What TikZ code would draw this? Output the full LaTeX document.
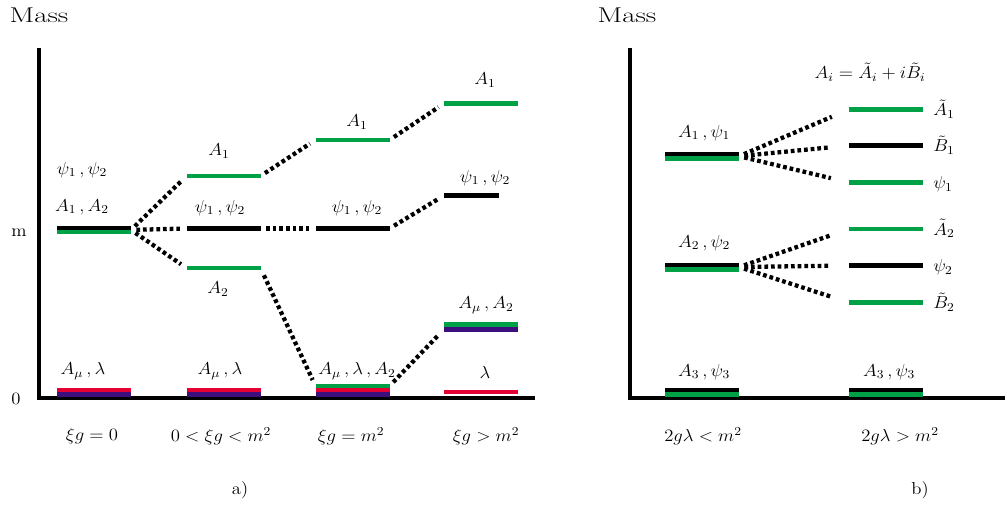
\RequirePackage{fix-cm}
\documentclass[tikz,border=0pt]{standalone}
\usepackage{amsmath}
\definecolor{lvgreen}{RGB}{0,160,70}
\definecolor{lvred}{RGB}{228,0,50}
\definecolor{lvpurple}{RGB}{60,15,125}
\tikzset{
  lvbar/.style={fill=#1, minimum width=55.5pt, minimum height=3.3pt, inner sep=0pt, outer sep=0pt},
  link/.style={line width=3.2pt, dash pattern=on 2.8pt off 2.2pt, shorten <=4pt, shorten >=5pt},
  lbl/.style={font=\fontsize{13}{15}\selectfont, transform shape, xscale=1.08, inner sep=0pt},
  masslbl/.style={font=\fontsize{16}{19}\selectfont, transform shape, xscale=1.36, inner sep=0pt},
  massaxis/.style={line width=3pt}
}
\begin{document}
\begin{tikzpicture}[x=0.75pt,y=-0.75pt]
    \useasboundingbox (0,0) rectangle (1007,504);

    % ---------------- a) ----------------
    \draw[massaxis] (39,48) |- (535,398);
    \node[masslbl] (massa) at (39,15) {Mass};
    \node[lbl] (mtick) at (19,233) {m};
    \node[lbl] (ztick) at (16,399) {0};

    % column 1: xi g = 0
    \node[lvbar=black] (a1k) at (94,227.7) {};
    \node[lvbar=lvgreen] (a1g) at (94,231.8) {};
    \node[lvbar=lvred] (a0r) at (94,390) {};
    \node[lvbar=lvpurple] (a0p) at (94,394.3) {};
    \node[lbl] (la1psi) at (82,170) {$\psi_1\,,\psi_2$};
    \node[lbl] (la1a) at (82,207) {$A_1\,,A_2$};
    \node[lbl] (la0) at (83,371) {$A_\mu\,,\lambda$};

    % column 2: 0 < xi g < m^2
    \node[lvbar=lvgreen] (b1) at (223.5,176) {};
    \node[lvbar=black] (bpsi) at (223.5,228.5) {};
    \node[lvbar=lvgreen] (b2) at (223.5,268) {};
    \node[lvbar=lvred] (b0r) at (223.5,390) {};
    \node[lvbar=lvpurple] (b0p) at (223.5,394.3) {};
    \node[lbl] (lb1) at (219,151) {$A_1$};
    \node[lbl] (lbpsi) at (220,208) {$\psi_1\,,\psi_2$};
    \node[lbl] (lb2) at (218,289) {$A_2$};
    \node[lbl] (lb0) at (220,371) {$A_\mu\,,\lambda$};

    % column 3: xi g = m^2
    \node[lvbar=lvgreen] (c1) at (352.5,140) {};
    \node[lvbar=black] (cpsi) at (352.5,228.5) {};
    \node[lvbar=lvgreen] (c0g) at (352.5,386) {};
    \node[lvbar=lvred] (c0r) at (352.5,390) {};
    \node[lvbar=lvpurple] (c0p) at (352.5,394.3) {};
    \node[lbl] (lc1) at (357,122) {$A_1$};
    \node[lbl] (lcpsi) at (357,208) {$\psi_1\,,\psi_2$};
    \node[lbl] (lc0) at (357,371) {$A_\mu\,,\lambda\,,A_2$};

    % column 4: xi g > m^2
    \node[lvbar=lvgreen] (d1) at (481,103.5) {};
    \node[lvbar=black, minimum width=41.25pt] (dpsi) at (471.5,195.5) {};
    \node[lvbar=lvgreen] (d2g) at (481,324.5) {};
    \node[lvbar=lvpurple] (d2p) at (481,329.3) {};
    \node[lvbar=lvred] (d0) at (481,392) {};
    \node[lbl] (ld1) at (485,80) {$A_1$};
    \node[lbl] (ldpsi) at (485,178) {$\psi_1\,,\psi_2$};
    \node[lbl] (ld2) at (486,305) {$A_\mu\,,A_2$};
    \node[lbl] (ld0) at (485,372) {$\lambda$};

    % splittings
    \draw[link] (a1k.south east) -- (b1.west);
    \draw[link] (a1k.south east) -- (bpsi.west);
    \draw[link] (a1k.south east) -- (b2.west);
    \draw[link] (b1.east) -- (c1.west);
    \draw[link] (bpsi.east) -- (cpsi.west);
    \draw[link, shorten <=6pt] (b2.east) -- (c0g.west);
    \draw[link] (c1.east) -- (d1.west);
    \draw[link] (cpsi.east) -- (dpsi.west);
    \draw[link] (c0g.east) -- (d2p.west);

    \node[lbl] (xa1) at (92,436) {$\xi g=0$};
    \node[lbl] (xa2) at (221,436) {$0<\xi g<m^2$};
    \node[lbl] (xa3) at (351,436) {$\xi g=m^2$};
    \node[lbl] (xa4) at (486,436) {$\xi g>m^2$};
    \node[lbl] (tag a) at (240,490) {a)};

    % ---------------- b) ----------------
    \draw[massaxis] (630,48) |- (1005,398);
    \node[masslbl] (massb) at (627,15) {Mass};
    \node[lbl] (defA) at (870,72) {$A_i=\tilde A_i+i\tilde B_i$};

    % left column: 2 g lambda < m^2
    \node[lvbar=black] (p1k) at (702,154) {};
    \node[lvbar=lvgreen] (p1g) at (702,158.4) {};
    \node[lvbar=black] (p2k) at (702,264.8) {};
    \node[lvbar=lvgreen] (p2g) at (702,269.3) {};
    \node[lvbar=black] (p3k) at (702,390) {};
    \node[lvbar=lvgreen] (p3g) at (702,394.4) {};
    \node[lbl] (lp1) at (704,133) {$A_1\,,\psi_1$};
    \node[lbl] (lp2) at (704,243) {$A_2\,,\psi_2$};
    \node[lbl] (lp3) at (704,372) {$A_3\,,\psi_3$};

    % right column: 2 g lambda > m^2
    \node[lvbar=lvgreen] (q1a) at (886,109.5) {};
    \node[lvbar=black] (q1b) at (886,145.5) {};
    \node[lvbar=lvgreen] (q1p) at (886,182.5) {};
    \node[lvbar=lvgreen] (q2a) at (886,229) {};
    \node[lvbar=black] (q2p) at (886,265.5) {};
    \node[lvbar=lvgreen] (q2b) at (886,302.5) {};
    \node[lvbar=black] (q3k) at (886,390) {};
    \node[lvbar=lvgreen] (q3g) at (886,394.4) {};
    \node[lbl, anchor=base west] (lq1a) at (933,115.5) {$\tilde A_1$};
    \node[lbl, anchor=base west] (lq1b) at (933,151.5) {$\tilde B_1$};
    \node[lbl, anchor=base west] (lq1p) at (933,188.5) {$\psi_1$};
    \node[lbl, anchor=base west] (lq2a) at (933,235) {$\tilde A_2$};
    \node[lbl, anchor=base west] (lq2p) at (933,271.5) {$\psi_2$};
    \node[lbl, anchor=base west] (lq2b) at (933,308.5) {$\tilde B_2$};
    \node[lbl] (lq3) at (889,372) {$A_3\,,\psi_3$};

    % splittings
    \foreach \src/\dst in {p1k/q1a, p1k/q1b, p1k/q1p, p2k/q2a, p2k/q2p, p2k/q2b} {
        \draw[link, shorten >=14pt] (\src.south east) -- (\dst.west);
    }

    \node[lbl] (xb1) at (703,436) {$2g\lambda<m^2$};
    \node[lbl] (xb2) at (900,436) {$2g\lambda>m^2$};
    \node[lbl] (tag b) at (920,490) {b)};
\end{tikzpicture}
\end{document}
